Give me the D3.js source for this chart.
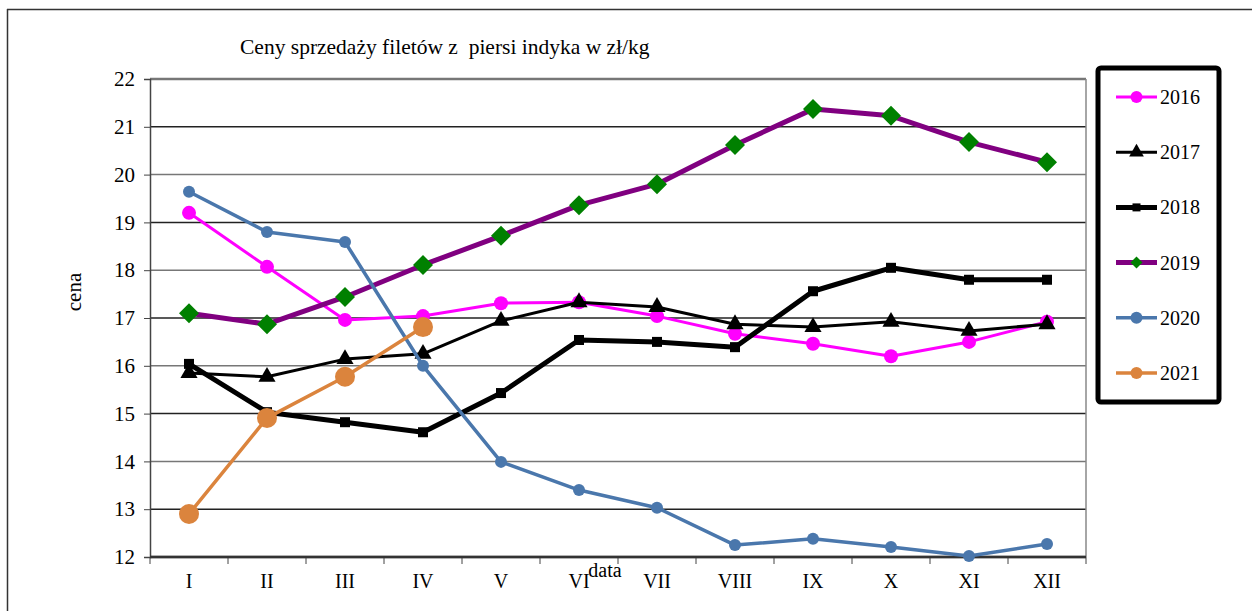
<!DOCTYPE html>
<html>
<head>
<meta charset="utf-8">
<script src="https://cdn.jsdelivr.net/npm/d3@7"></script>
<style>
  body { margin: 0; background: #fff; }
  svg { display: block; }
  text { font-family: "Liberation Serif", serif; }
</style>
</head>
<body>
<div id="chart"></div>
<script>
var months = ["I", "II", "III", "IV", "V", "VI", "VII", "VIII", "IX", "X", "XI", "XII"];
var yTicks = [12, 13, 14, 15, 16, 17, 18, 19, 20, 21, 22];

var v2016 = [19.2, 18.07, 16.96, 17.04, 17.31, 17.33, 17.04, 16.67, 16.46, 16.2, 16.5, 16.92];
var v2017 = [15.85, 15.77, 16.14, 16.25, 16.94, 17.33, 17.23, 16.87, 16.81, 16.92, 16.73, 16.87];
var v2018 = [16.04, 15.03, 14.82, 14.61, 15.43, 16.54, 16.5, 16.39, 17.56, 18.05, 17.8, 17.8];
var v2019 = [17.1, 16.87, 17.44, 18.11, 18.72, 19.36, 19.8, 20.62, 21.37, 21.23, 20.68, 20.26];
var v2020 = [19.64, 18.8, 18.59, 16.0, 13.99, 13.4, 13.03, 12.25, 12.38, 12.21, 12.02, 12.27];
var v2021 = [12.9, 14.91, 15.77, 16.81];

var series = [
  { name: "2016", values: v2016, color: "#ff00ff", width: 3, marker: "circle", msize: 7, mcolor: "#ff00ff" },
  { name: "2017", values: v2017, color: "#000000", width: 3, marker: "triangle", msize: 7, mcolor: "#000000" },
  { name: "2018", values: v2018, color: "#000000", width: 5, marker: "square", msize: 5, mcolor: "#000000" },
  { name: "2019", values: v2019, color: "#800080", width: 5, marker: "diamond", msize: 10, mcolor: "#008000" },
  { name: "2020", values: v2020, color: "#4a77ac", width: 3.5, marker: "circle", msize: 6, mcolor: "#4a77ac" },
  { name: "2021", values: v2021, color: "#db843d", width: 3.5, marker: "circle", msize: 10, mcolor: "#db843d" }
];

var width = 1252, height = 611;
var margin = { left: 150, right: 1086, top: 79, bottom: 557 };
var serif = "Liberation Serif";

var svg = d3.select("#chart").append("svg")
  .attr("width", width)
  .attr("height", height);

// outer frame
svg.append("line").attr("x1", 7).attr("x2", width).attr("y1", 9.5).attr("y2", 9.5)
  .attr("stroke", "#333").attr("stroke-width", 1.5);
svg.append("line").attr("x1", 7.5).attr("x2", 7.5).attr("y1", 9).attr("y2", height)
  .attr("stroke", "#333").attr("stroke-width", 1.5);

var x = d3.scaleBand().domain(months).range([margin.left, margin.right]);
var y = d3.scaleLinear().domain([12, 22]).range([margin.bottom, margin.top]);

// gridlines
svg.append("g").selectAll("line").data(yTicks).enter().append("line")
  .attr("x1", margin.left).attr("x2", margin.right)
  .attr("y1", function (d) { return y(d); })
  .attr("y2", function (d) { return y(d); })
  .attr("stroke", function (d, i) { return i % 2 ? "#222" : "#777"; })
  .attr("stroke-width", function (d) { return d === 22 || d === 12 ? 2.5 : 1.5; });

// right border of plot
svg.append("line").attr("x1", margin.right).attr("x2", margin.right)
  .attr("y1", margin.top).attr("y2", margin.bottom)
  .attr("stroke", "#888").attr("stroke-width", 1.5);

// y axis
var yAxis = svg.append("g")
  .attr("transform", "translate(" + margin.left + ",0)")
  .call(d3.axisLeft(y).tickValues(yTicks).tickSize(6).tickPadding(9));
yAxis.select(".domain").attr("stroke", "#444").attr("stroke-width", 1.5);
yAxis.selectAll(".tick line").attr("stroke", "#444");
yAxis.selectAll("text").attr("font-size", 21).attr("font-family", serif).attr("fill", "#000");

// x axis
var xAxis = svg.append("g")
  .attr("transform", "translate(0," + margin.bottom + ")")
  .call(d3.axisBottom(x).tickSize(0).tickPadding(17));
xAxis.select(".domain").remove();
xAxis.selectAll("text").attr("font-size", 20).attr("font-family", serif).attr("fill", "#000");
svg.append("g").selectAll("line").data(d3.range(months.length + 1)).enter().append("line")
  .attr("x1", function (i) { return margin.left + i * x.step(); })
  .attr("x2", function (i) { return margin.left + i * x.step(); })
  .attr("y1", margin.bottom).attr("y2", margin.bottom + 7)
  .attr("stroke", "#444");
svg.append("line").attr("x1", margin.left).attr("x2", margin.right)
  .attr("y1", margin.bottom).attr("y2", margin.bottom)
  .attr("stroke", "#333").attr("stroke-width", 2.5);

// titles
svg.append("text").attr("x", 240).attr("y", 54)
  .attr("font-family", serif).attr("font-size", 21.5)
  .style("white-space", "pre")
  .text("Ceny sprzedaży filetów z  piersi indyka w zł/kg");
svg.append("text").attr("transform", "translate(81,292) rotate(-90)")
  .attr("font-family", serif).attr("text-anchor", "middle").attr("font-size", 21).text("cena");
svg.append("text").attr("x", 605).attr("y", 577)
  .attr("font-family", serif).attr("text-anchor", "middle").attr("font-size", 20).text("data");

var line = d3.line()
  .x(function (d, i) { return x(months[i]) + x.bandwidth() / 2; })
  .y(function (d) { return y(d); });

function drawMarker(g, type, size, color) {
  if (type === "circle") {
    g.append("circle").attr("r", size).attr("fill", color);
  } else if (type === "triangle") {
    g.append("path").attr("d", d3.symbol().type(d3.symbolTriangle).size(size * size * 2.6)())
      .attr("fill", color);
  } else if (type === "square") {
    g.append("rect").attr("x", -size).attr("y", -size).attr("width", size * 2).attr("height", size * 2)
      .attr("fill", color);
  } else if (type === "diamond") {
    g.append("path").attr("d", "M0," + -size + "L" + size + ",0L0," + size + "L" + -size + ",0Z")
      .attr("fill", color);
  }
}

series.forEach(function (s) {
  svg.append("path").datum(s.values)
    .attr("d", line)
    .attr("fill", "none")
    .attr("stroke", s.color)
    .attr("stroke-width", s.width)
    .attr("stroke-linejoin", "round");
  s.values.forEach(function (v, i) {
    var g = svg.append("g")
      .attr("transform", "translate(" + (x(months[i]) + x.bandwidth() / 2) + "," + y(v) + ")");
    drawMarker(g, s.marker, s.msize, s.mcolor);
  });
});

// legend
var legend = svg.append("g");
legend.append("rect").attr("x", 1098).attr("y", 68).attr("width", 121).attr("height", 334)
  .attr("rx", 3).attr("fill", "#fff").attr("stroke", "#000").attr("stroke-width", 5);
series.forEach(function (s, i) {
  var ly = 97 + i * 55.2;
  legend.append("line").attr("x1", 1116).attr("x2", 1157).attr("y1", ly).attr("y2", ly)
    .attr("stroke", s.color).attr("stroke-width", s.width);
  var g = legend.append("g").attr("transform", "translate(1136.5," + ly + ")");
  var ms = s.marker === "square" ? 4 : 6;
  drawMarker(g, s.marker, ms, s.mcolor);
  legend.append("text").attr("x", 1160).attr("y", ly + 7)
    .attr("font-family", serif).attr("font-size", 20).text(s.name);
});
</script>
</body>
</html>
